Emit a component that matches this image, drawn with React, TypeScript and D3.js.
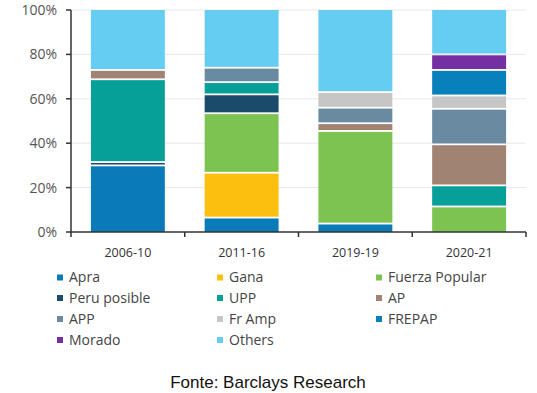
import React from "react";
import * as d3 from "d3";

const categories = ["2006-10", "2011-16", "2019-19", "2020-21"];
const parties = ["Apra", "Gana", "Fuerza Popular", "Peru posible", "UPP", "AP", "APP", "Fr Amp", "FREPAP", "Morado", "Others"];
const colors = ["#0a7bb8", "#fdbf0f", "#7dc352", "#1b4b6a", "#06a099", "#a08373", "#6a8aa2", "#c6c6c6", "#0880bb", "#7430a2", "#66cdf2"];
// values per party, per category (percent)
const apra = [30, 6.5, 3.8, 0];
const gana = [0, 20.2, 0, 0];
const fuerza = [0, 26.8, 41.7, 11.5];
const peruPosible = [1.5, 8.5, 0, 0];
const upp = [37.3, 5.5, 0, 9.5];
const ap = [4.2, 0, 3.5, 18.5];
const appV = [0, 6.5, 7, 16];
const frAmp = [0, 0, 7, 6];
const frepap = [0, 0, 0, 11.5];
const morado = [0, 0, 0, 7];
const others = [27, 26, 37, 20];
const yTicks = [0, 20, 40, 60, 80, 100];

const series = [apra, gana, fuerza, peruPosible, upp, ap, appV, frAmp, frepap, morado, others];

export default function App() {
  const W = 537, H = 393;
  const left = 71, right = 526, top = 10, bottom = 232;
  const x = d3.scaleBand().domain(categories).range([left, right]).paddingInner(0.35).paddingOuter(0.175);
  const y = d3.scaleLinear().domain([0, 100]).range([bottom, top]);
  const table = categories.map((c, i) => {
    const row: any = { cat: c };
    parties.forEach((p, j) => (row[p] = series[j][i]));
    return row;
  });
  const stacked = d3.stack().keys(parties)(table);
  const bandStep = (right - left) / categories.length;
  const font = "'Open Sans', sans-serif";
  const legendCols = [57, 217, 376];
  const legendRows = [277.5, 298, 319, 340];
  return (
    <svg width={W} height={H} style={{ position: "absolute", left: 0, top: 0, background: "#fff" }}>
      {yTicks.filter((t) => t > 0).map((t) => (
        <line key={t} x1={left} x2={right} y1={y(t)} y2={y(t)} stroke="#e8e8e8" strokeWidth={1} />
      ))}
      {stacked.map((s, j) => (
        <g key={parties[j]} fill={colors[j]}>
          {s.map((d, i) => {
            const h = y(d[0]) - y(d[1]);
            if (h <= 0) return null;
            return (
              <rect key={i} x={x(categories[i])} width={x.bandwidth()} y={y(d[1]) + (d[1] >= 100 ? 0 : 0.9)} height={Math.max(0.5, h - (d[1] >= 100 ? 0.9 : 1.8) + (d[0] <= 0 ? 0.9 : 0))} />
            );
          })}
        </g>
      ))}
      <line x1={left} x2={left} y1={top} y2={bottom} stroke="#333" strokeWidth={1.5} />
      <line x1={left - 1} x2={right} y1={bottom} y2={bottom} stroke="#333" strokeWidth={1.5} />
      {yTicks.map((t) => (
        <g key={t}>
          <line x1={left - 5} x2={left} y1={y(t)} y2={y(t)} stroke="#333" strokeWidth={1.5} />
          <text x={57} y={y(t)} dy="0.35em" textAnchor="end" fontSize={14} fill="#555" fontFamily={font}>{t}%</text>
        </g>
      ))}
      {d3.range(categories.length + 1).map((i) => (
        <line key={i} x1={left + i * bandStep} x2={left + i * bandStep} y1={bottom} y2={bottom + 5} stroke="#333" strokeWidth={1.5} />
      ))}
      {categories.map((c) => (
        <text key={c} x={(x(c) as number) + x.bandwidth() / 2} y={257} textAnchor="middle" fontSize={12.5} fill="#333" fontFamily={font}>{c}</text>
      ))}
      {parties.map((p, j) => {
        const col = j % 3, row = Math.floor(j / 3);
        return (
          <g key={p} transform={`translate(${legendCols[col]},${legendRows[row]})`}>
            <rect x={0} y={-3} width={6} height={6} fill={colors[j]} />
            <text x={12} y={0} dy="0.35em" fontSize={14} fill="#444" fontFamily={font}>{p}</text>
          </g>
        );
      })}
      <text x={268} y={388} textAnchor="middle" fontSize={17} fill="#111" fontFamily="'Liberation Sans', Arial, sans-serif">Fonte: Barclays Research</text>
    </svg>
  );
}
